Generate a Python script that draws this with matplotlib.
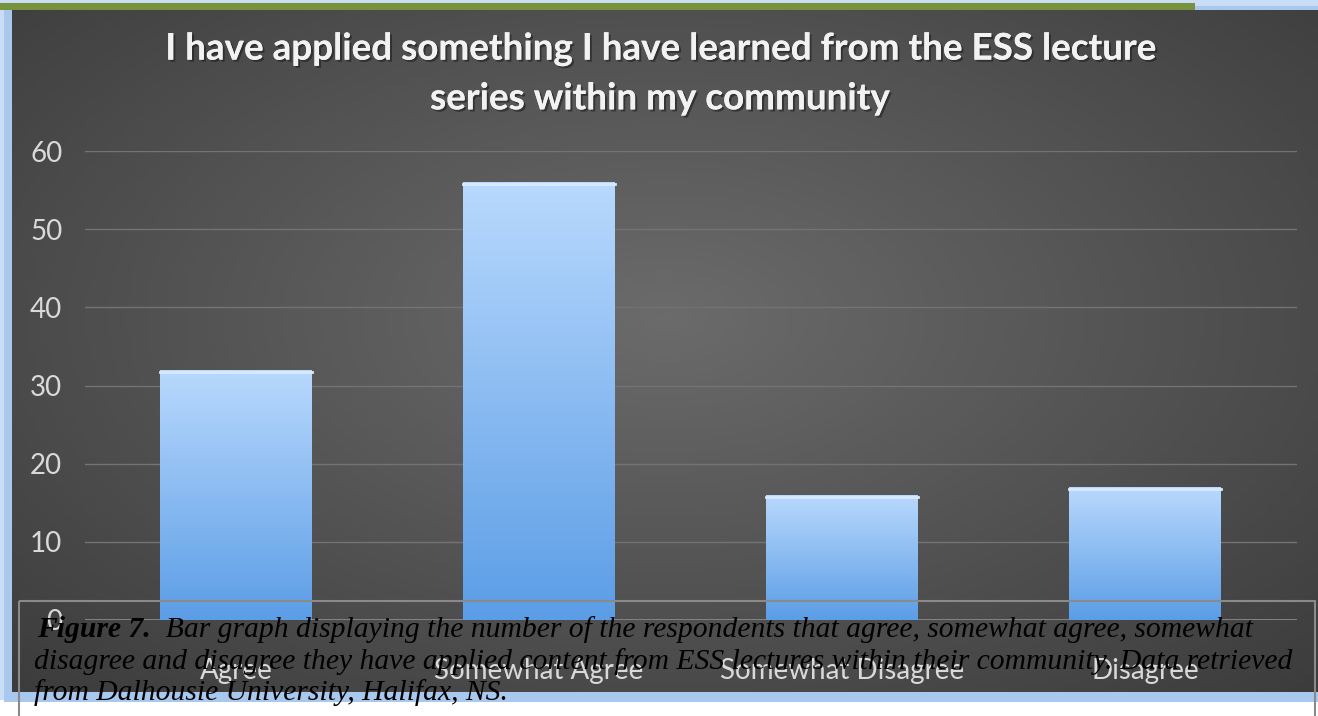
import numpy as np
import matplotlib
matplotlib.use("Agg")
import matplotlib.pyplot as plt
import matplotlib.patheffects as pe
from matplotlib.patches import Rectangle
from matplotlib.colors import LinearSegmentedColormap

categories = ["Agree", "Somewhat Agree", "Somewhat Disagree", "Disagree"]
counts = [32, 56, 16, 17]
yticks = [0, 10, 20, 30, 40, 50, 60]
title = "I have applied something I have learned from the ESS lecture\nseries within my community"
cap_bold = "Figure 7."
cap_line1 = "  Bar graph displaying the number of the respondents that agree, somewhat agree, somewhat"
cap_line2 = "disagree and disagree they have applied content from ESS lectures within their community. Data retrieved"
cap_line3 = "from Dalhousie University, Halifax, NS."

W, H = 1318, 716
fig = plt.figure(figsize=(W / 100, H / 100), dpi=100, facecolor="white")

def fx(px):
    return px / W

def fy(py):
    return 1 - py / H

# background layer (frame, glow, dark panel)
bg = fig.add_axes([0, 0, 1, 1], zorder=0)
bg.set_xlim(0, W)
bg.set_ylim(H, 0)
bg.axis("off")
bg.add_patch(Rectangle((0, 0), W, 700, color="#c9ddf6", lw=0))
bg.add_patch(Rectangle((4, 6), W, 696, color="#a9c8ee", lw=0))
yy, xx = np.mgrid[0:1:200j, 0:1:300j]
r = np.sqrt(((xx - 0.5) / 0.75) ** 2 + ((yy - 0.45) / 0.8) ** 2)
shade = np.clip(1 - r, 0, 1)
panel_cmap = LinearSegmentedColormap.from_list("panel", ["#3c3c3c", "#6b6b6b"])
bg.imshow(shade, cmap=panel_cmap, extent=(12, W, 692, 10), aspect="auto", zorder=2)
bg.add_patch(Rectangle((0, 3), 1195, 7, color="#76923c", lw=0, zorder=3))

# chart
ax = fig.add_axes([fx(84.5), fy(620), fx(1296.5) - fx(84.5), fy(151) - fy(620)], zorder=1)
ax.patch.set_alpha(0)
x = np.arange(len(categories))
bars = ax.bar(x, counts, width=0.5, color="#7fb2ee", zorder=3)
bar_cmap = LinearSegmentedColormap.from_list("bar", ["#5b9de6", "#b9d9fd"])
grad = np.linspace(0, 1, 256).reshape(-1, 1)
for b in bars:
    x0, w, h = b.get_x(), b.get_width(), b.get_height()
    im = ax.imshow(grad, cmap=bar_cmap, origin="lower", extent=(x0, x0 + w, 0, h),
                   aspect="auto", zorder=4)
    im.set_clip_path(b)
    ax.plot([x0, x0 + w], [h - 0.25, h - 0.25], color="#d8eaff", lw=2, zorder=5)
ax.set_xlim(-0.5, len(categories) - 0.5)
ax.set_ylim(0, 60)
ax.set_yticks(yticks)
ax.set_xticks(x)
ax.set_xticklabels(categories)
for s in ax.spines.values():
    s.set_visible(False)
ax.grid(axis="y", color="#737373", lw=1, zorder=1)
ax.axhline(0, color="#8c8c8c", lw=1.2, zorder=2)
ax.tick_params(length=0, colors="#d9d9d9", labelsize=20)
ax.tick_params(axis="y", pad=16)
ax.tick_params(axis="x", pad=27)
for lbl in ax.get_xticklabels() + ax.get_yticklabels():
    lbl.set_fontfamily("Lato")

fig.text(0.5, fy(74), title, ha="center", va="center", fontsize=26.5, fontweight="bold",
         color="#f2f2f2", family="Lato", linespacing=1.62, zorder=5,
         path_effects=[pe.withSimplePatchShadow(offset=(1.5, -1.5), shadow_rgbFace="#1e1e1e", alpha=0.6),
                       pe.Normal()])

# caption box
bg2 = fig.add_axes([0, 0, 1, 1], zorder=2)
bg2.set_xlim(0, W)
bg2.set_ylim(H, 0)
bg2.axis("off")
bg2.patch.set_alpha(0)
bg2.add_patch(Rectangle((19, 601), 1296, 130, fill=False, ec="#8a8a8a", lw=1.5))
cap_kw = dict(fontsize=21.3, style="italic", color="black", family="Liberation Serif", va="baseline")
t = bg2.text(37, 637, cap_bold, fontweight="bold", **cap_kw)
fig.canvas.draw()
bb = t.get_window_extent()
bg2.text(bb.x1, 637, cap_line1, **cap_kw)
bg2.text(34, 669, cap_line2, **cap_kw)
bg2.text(34, 700, cap_line3, **cap_kw)

fig.savefig("out.png", dpi=100, facecolor="white")
